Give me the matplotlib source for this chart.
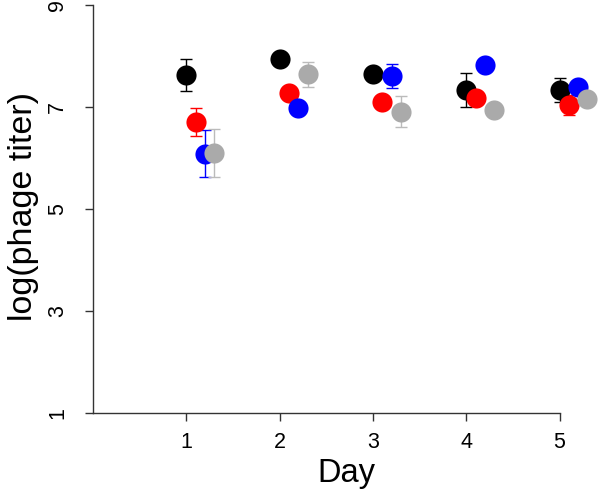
import matplotlib
matplotlib.use("Agg")
from matplotlib import pyplot as plt
import numpy as np

plt.rcParams['font.family'] = ['Liberation Sans', 'DejaVu Sans']

days = [1, 2, 3, 4, 5]
x_tick_labels = ["1", "2", "3", "4", "5"]
y_ticks = [1, 3, 5, 7, 9]

# log titer per group (black, red, blue, gray) and error bar half widths
black_vals = [7.63, 7.94, 7.64, 7.33, 7.33]
black_err = [0.31, 0.10, 0.10, 0.33, 0.24]
red_vals = [6.71, 7.27, 7.10, 7.18, 7.04]
red_err = [0.27, 0.10, 0.10, 0.10, 0.20]
blue_vals = [6.08, 6.99, 7.61, 7.82, 7.40]
blue_err = [0.46, 0.10, 0.23, 0.10, 0.10]
gray_vals = [6.10, 7.64, 6.91, 6.94, 7.16]
gray_err = [0.47, 0.24, 0.30, 0.10, 0.10]

groups = [
    (black_vals, black_err, "black", "black", 0.0),
    (red_vals, red_err, "red", "red", 0.1),
    (blue_vals, blue_err, "blue", "blue", 0.2),
    (gray_vals, gray_err, "#aaaaaa", "#bbbbbb", 0.3),
]

fig = plt.figure(figsize=(6, 4.9), dpi=100)
ax = fig.add_axes([93 / 600, 77 / 490, 507 / 600, 413 / 490])

for vals, err, col, ecol, off in groups:
    x = np.array(days) + off
    ax.errorbar(x, vals, yerr=err, fmt="none", ecolor=ecol, elinewidth=1,
                capsize=4, capthick=1, clip_on=False, zorder=2)
    ax.plot(x, vals, "o", color=col, markersize=14.5, markeredgewidth=0,
            clip_on=False, zorder=3)

ax.set_xlim(0, 507 / 93.3)
ax.set_ylim(1, 9 + 5 / 51)

ax.spines["top"].set_visible(False)
ax.spines["right"].set_visible(False)
ax.spines["bottom"].set_bounds(0, 5)
ax.spines["left"].set_bounds(1, 9)
for s in ["bottom", "left"]:
    ax.spines[s].set_color("#333333")
    ax.spines[s].set_linewidth(1)

ax.set_xticks(days)
ax.set_xticklabels(x_tick_labels)
ax.set_yticks(y_ticks)
ax.set_yticklabels([str(v) for v in y_ticks], rotation=90, va="center")
ax.tick_params(direction="out", length=6, width=1, color="#333333",
               labelsize=15.5)
ax.tick_params(axis="x", pad=8)
ax.tick_params(axis="y", pad=12)

ax.set_xlabel("Day", fontsize=23.5, labelpad=3)
ax.set_ylabel("log(phage titer)", fontsize=24.5, labelpad=6)

fig.savefig("out.png", dpi=100)
